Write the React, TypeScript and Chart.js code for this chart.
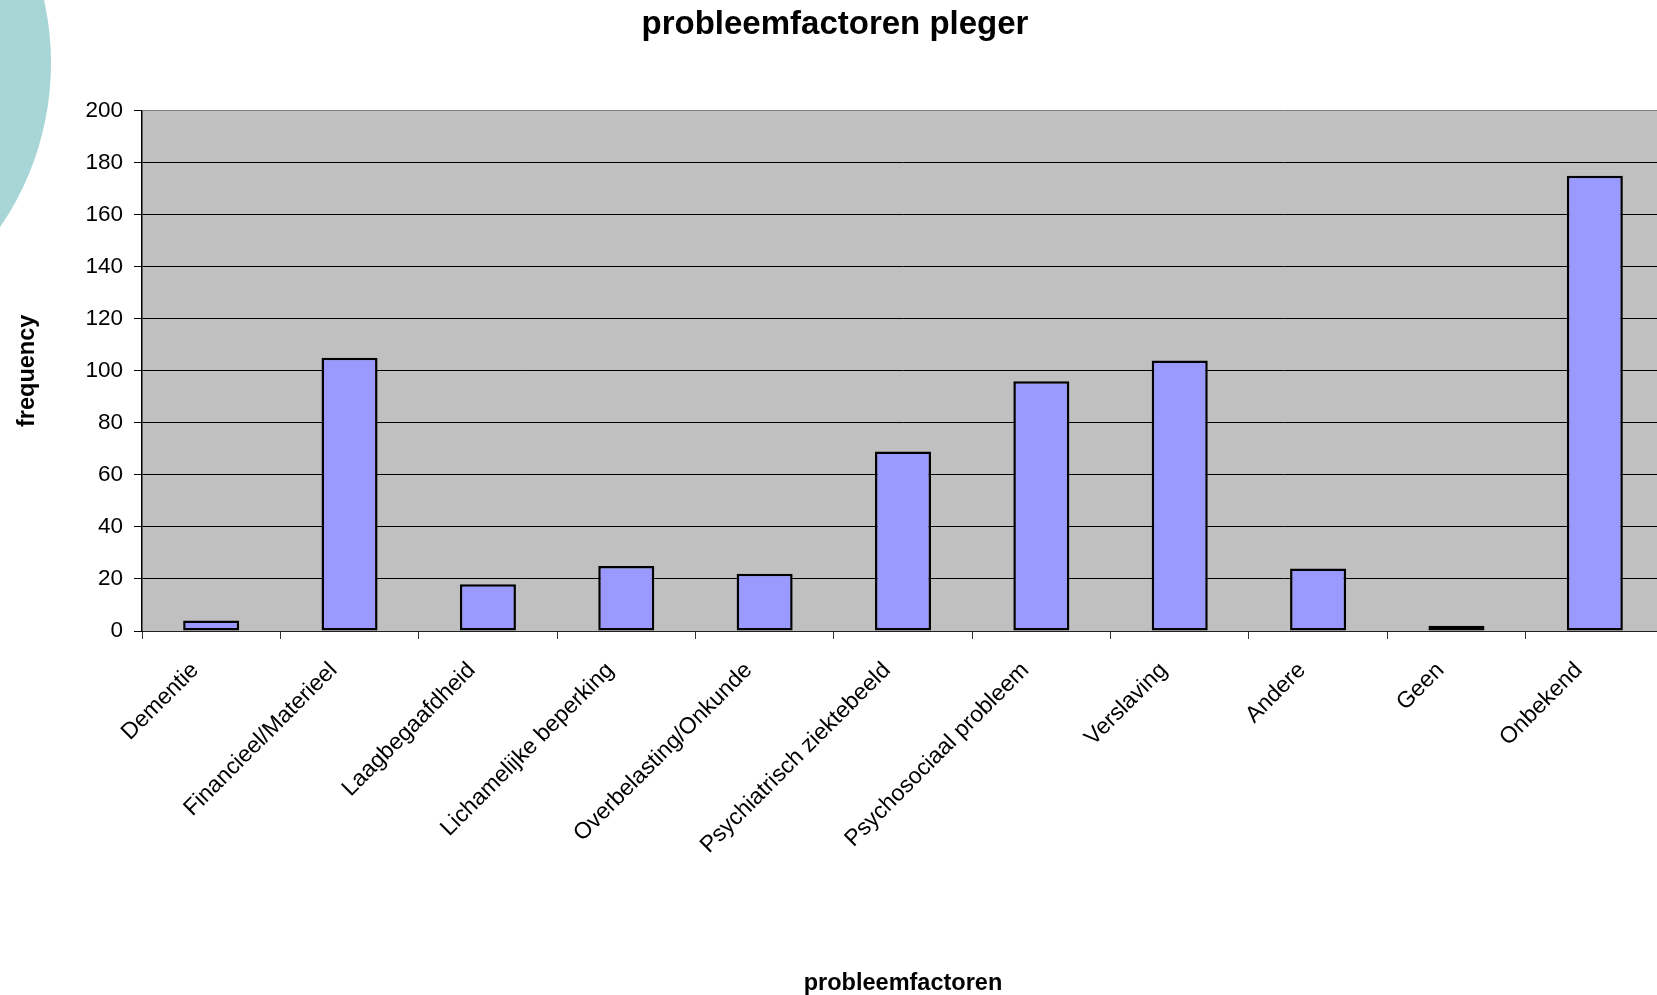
import React, { useEffect, useRef } from "react";
import { Chart, registerables } from "chart.js";

Chart.register(...registerables);

const categories = [
  "Dementie",
  "Financieel/Materieel",
  "Laagbegaafdheid",
  "Lichamelijke beperking",
  "Overbelasting/Onkunde",
  "Psychiatrisch ziektebeeld",
  "Psychosociaal probleem",
  "Verslaving",
  "Andere",
  "Geen",
  "Onbekend",
];
const frequencies = [4, 105, 18, 25, 22, 69, 96, 104, 24, 2, 175];
const yMin = 0;
const yMax = 200;
const yStep = 20;
const chartTitle = "probleemfactoren pleger";
const xAxisTitle = "probleemfactoren";
const yAxisTitle = "frequency";

const FONT = "'Liberation Sans', Arial, Helvetica, sans-serif";
const CANVAS_W = 1676;
const CANVAS_H = 995;
const PAD_LEFT = 6;

const plotBackground = {
  id: "plotBackground",
  beforeDraw(chart: any) {
    const { ctx, chartArea } = chart;
    if (!chartArea) return;
    const { left, top, right, bottom } = chartArea;
    ctx.save();
    ctx.fillStyle = "#c0c0c0";
    ctx.fillRect(left, top, right - left, bottom - top);
    ctx.restore();
  },
};

export default function App() {
  const canvasRef = useRef<HTMLCanvasElement | null>(null);

  useEffect(() => {
    const canvas = canvasRef.current;
    if (!canvas) return;
    Chart.defaults.color = "#000";
    const chart = new Chart(canvas, {
      type: "bar",
      data: {
        labels: categories,
        datasets: [
          {
            label: yAxisTitle,
            data: frequencies,
            backgroundColor: "#9999ff",
            borderColor: "#000000",
            borderWidth: 2.5,
            borderSkipped: false,
            categoryPercentage: 1,
            barPercentage: 0.405,
          },
        ],
      },
      options: {
        responsive: false,
        animation: false,
        devicePixelRatio: 1,
        layout: { padding: { left: PAD_LEFT, right: CANVAS_W - 1664, top: 0, bottom: 0 } },
        plugins: {
          legend: { display: false },
          tooltip: { enabled: false },
          title: {
            display: true,
            text: chartTitle,
            color: "#000",
            font: { family: FONT, size: 33, weight: "bold" },
            padding: { top: 5, bottom: 66 },
          },
        },
        scales: {
          x: {
            offset: true,
            afterFit: (scale: any) => {
              scale.height = CANVAS_H - 631;
            },
            grid: {
              display: true,
              drawOnChartArea: false,
              drawTicks: true,
              tickLength: 8,
              color: "#333",
              tickColor: "#333",
              offset: true,
            },
            border: { display: true, color: "#222", width: 1 },
            ticks: {
              autoSkip: false,
              minRotation: 45,
              maxRotation: 45,
              padding: 18,
              labelOffset: -16,
              color: "#000",
              font: { family: FONT, size: 23 },
            },
            title: {
              display: true,
              text: xAxisTitle,
              color: "#000",
              font: { family: FONT, size: 23.5, weight: "bold" },
              padding: { top: 0, bottom: -3 },
            },
          },
          y: {
            min: yMin,
            max: yMax,
            afterFit: (scale: any) => {
              scale.width = 142 - PAD_LEFT;
            },
            grid: {
              color: (ctx: any) => (ctx.tick && ctx.tick.value === yMax ? "#808080" : "#000"),
              tickColor: "#000",
              lineWidth: 1,
              tickLength: 8,
              drawTicks: true,
            },
            border: { display: true, color: "#000", width: 1.5 },
            ticks: {
              stepSize: yStep,
              padding: 11,
              color: "#000",
              font: { family: FONT, size: 22.5 },
            },
            title: {
              display: true,
              text: yAxisTitle,
              color: "#000",
              font: { family: FONT, size: 23.5, weight: "bold" },
              padding: { top: 13 - PAD_LEFT, bottom: 0 },
            },
          },
        },
      },
      plugins: [plotBackground],
    } as any);
    return () => {
      chart.destroy();
    };
  }, []);

  return (
    <div
      style={{
        position: "fixed",
        left: 0,
        top: 0,
        width: "100vw",
        height: "100vh",
        overflow: "hidden",
        background: "#ffffff",
      }}
    >
      <div
        style={{
          position: "absolute",
          left: -529,
          top: -227,
          width: 580,
          height: 580,
          borderRadius: "50%",
          background: "#a8d6d6",
        }}
      />
      <canvas
        ref={canvasRef}
        width={CANVAS_W}
        height={CANVAS_H}
        style={{ position: "absolute", left: 0, top: 0, width: CANVAS_W, height: CANVAS_H }}
      />
    </div>
  );
}
